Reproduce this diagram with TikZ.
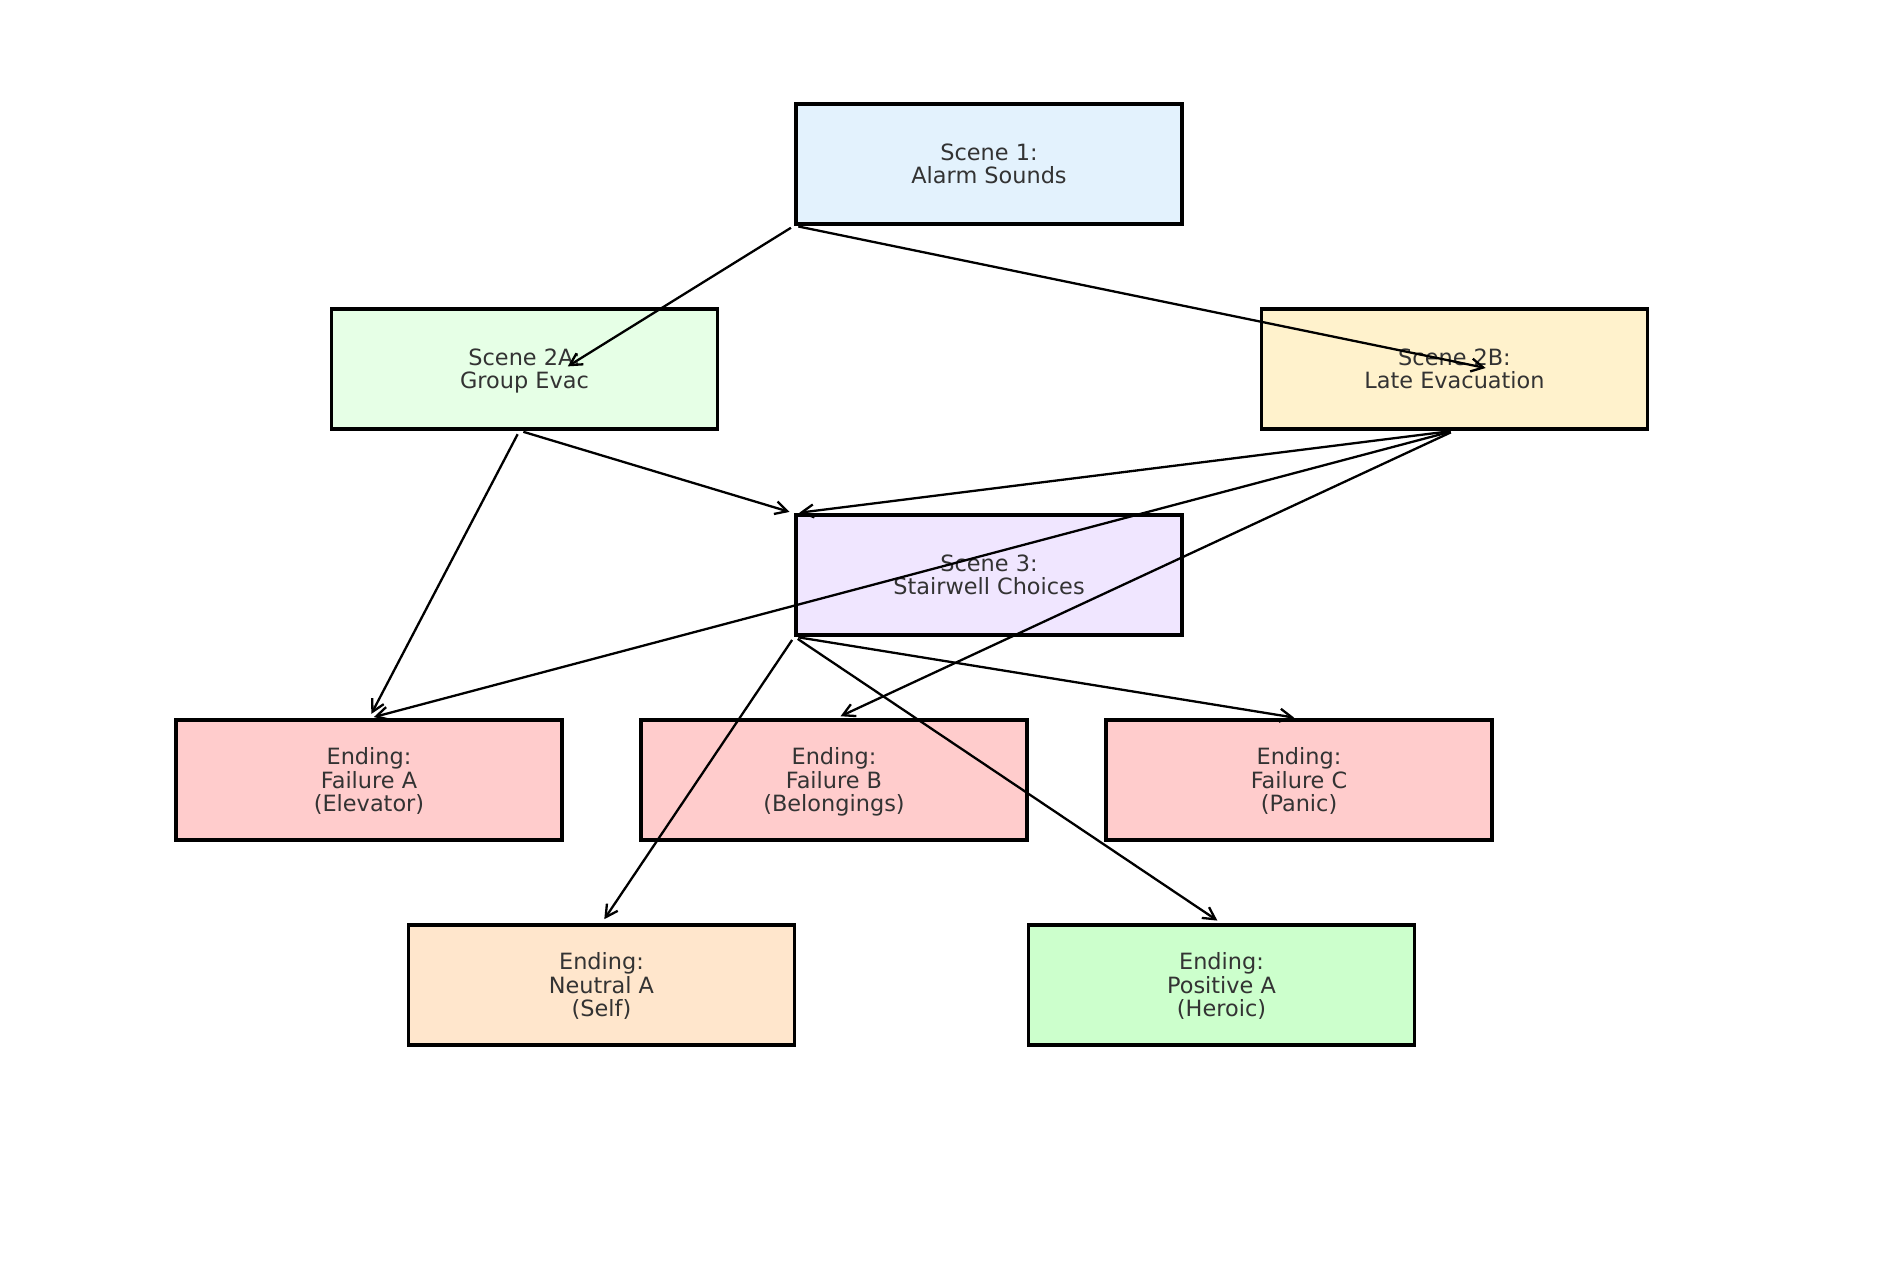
\documentclass[tikz,border=0pt]{standalone}
\usepackage{fontspec}
\setmainfont{DejaVu Sans}
\usetikzlibrary{positioning, arrows.meta}

\definecolor{textgrey}{HTML}{333333}
\definecolor{sceneblue}{HTML}{E3F2FD}
\definecolor{scenegreen}{HTML}{E6FFE6}
\definecolor{sceneyellow}{HTML}{FFF2CC}
\definecolor{scenepurple}{HTML}{F0E6FF}
\definecolor{endred}{HTML}{FFCCCC}
\definecolor{endorange}{HTML}{FFE6CC}
\definecolor{endgreen}{HTML}{CCFFCC}
\newcommand\topstrut{\rule{0pt}{22.2pt}}
\newcommand\botstrut{\rule[-6pt]{0pt}{6pt}}

\begin{document}
\begin{tikzpicture}[x=1pt, y=-1pt, on grid,
    box/.style={draw=black, line width=3.3pt, minimum width=386pt, minimum height=120pt,
        inner sep=0pt, align=center, text=textgrey, font=\fontsize{22.4}{23.5}\selectfont,
        execute at end node=\botstrut},
    link/.style={-{Straight Barb[length=12pt,width=13pt]}, line width=2.3pt,
        shorten <=4pt, shorten >=5pt}]
    \useasboundingbox (0,0) rectangle (1900,1272);
    \node [box, fill=sceneblue] (s1) at (989,164) {\topstrut Scene 1:\\Alarm Sounds};
    \node [box, fill=scenegreen, below left = 205pt and 464.5pt of s1] (s2a) {\topstrut Scene 2A:\\Group Evac};
    \node [box, fill=sceneyellow, below right = 205pt and 465.5pt of s1] (s2b) {\topstrut Scene 2B:\\Late Evacuation};
    \node [box, fill=scenepurple, below = 411pt of s1] (s3) {\topstrut Scene 3:\\Stairwell Choices};
    \node [box, fill=endred, below left = 411pt and 155.5pt of s2a] (failA) {\topstrut Ending:\\Failure A\\(Elevator)};
    \node [box, fill=endred, below left = 205pt and 155pt of s3] (failB) {\topstrut Ending:\\Failure B\\(Belongings)};
    \node [box, fill=endred, below right = 205pt and 310pt of s3] (failC) {\topstrut Ending:\\Failure C\\(Panic)};
    \node [box, fill=endorange, below right = 205pt and 232.5pt of failA] (neutral) {\topstrut Ending:\\Neutral A\\(Self)};
    \node [box, fill=endgreen, below right = 410pt and 232.5pt of s3] (positive) {\topstrut Ending:\\Positive A\\(Heroic)};
    % arrows
    \draw [link] (s1.south west) -- ([xshift=39pt]s2a.center);
    \draw [link] (s1.south west) -- ([xshift=36pt]s2b.center);
    \draw [link] ([xshift=-5pt]s2a.south) -- (s3.north west);
    \draw [link] ([xshift=-5pt]s2a.south) -- (failA.north);
    \draw [link] (s2b.south) -- (s3.north west);
    \draw [link] (s2b.south) -- (failA.north);
    \draw [link] (s2b.south) -- ([xshift=2pt]failB.north);
    \draw [link] (s3.south west) -- (neutral.north);
    \draw [link] (s3.south west) -- (positive.north);
    \draw [link] (s3.south west) -- (failC.north);
\end{tikzpicture}
\end{document}
